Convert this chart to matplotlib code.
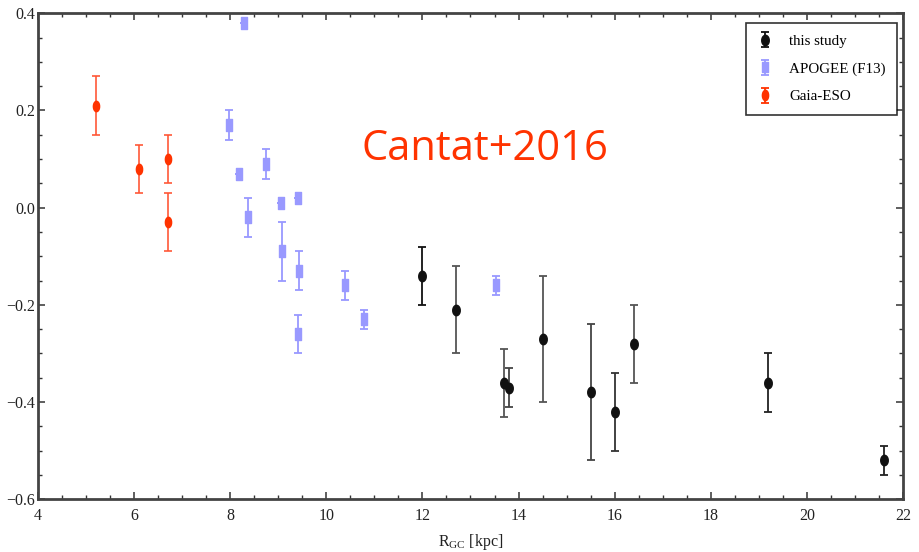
import numpy as np
import matplotlib
matplotlib.use("Agg")
import matplotlib.pyplot as plt
from matplotlib.path import Path
from matplotlib.ticker import MultipleLocator

# --- data: galactocentric radius vs. abundance gradient ---
study_r = [12.0, 12.7, 13.7, 13.8, 14.5, 15.5, 16.0, 16.4, 19.2, 21.6]
study_y = [-0.14, -0.21, -0.36, -0.37, -0.27, -0.38, -0.42, -0.28, -0.36, -0.52]
study_err = [0.06, 0.09, 0.07, 0.04, 0.13, 0.14, 0.08, 0.08, 0.06, 0.03]
study_ecol = ["#111111", "#555555", "#555555", "#444444", "#555555",
              "#444444", "#333333", "#555555", "#222222", "#222222"]

apogee_r = [8.29, 7.97, 8.18, 8.74, 8.36, 9.06, 9.41, 9.07, 9.44, 9.41,
            10.38, 10.78, 13.54]
apogee_y = [0.38, 0.17, 0.07, 0.09, -0.02, 0.01, 0.02, -0.09, -0.13, -0.26,
            -0.16, -0.23, -0.16]
apogee_err = [0.0, 0.03, 0.0, 0.03, 0.04, 0.0, 0.0, 0.06, 0.04, 0.04,
              0.03, 0.02, 0.02]

gaia_r = [5.2, 6.1, 6.7, 6.7]
gaia_y = [0.21, 0.08, 0.10, -0.03]
gaia_err = [0.06, 0.05, 0.05, 0.06]

x_ticks = [4, 6, 8, 10, 12, 14, 16, 18, 20, 22]
y_ticks = [-0.6, -0.4, -0.2, 0.0, 0.2, 0.4]

# tall ellipse / tall rectangle markers
t = np.linspace(0, 2 * np.pi, 60)
ellipse = Path(np.column_stack([0.36 * np.cos(t), 0.5 * np.sin(t)]))
ellipse_n = Path(np.column_stack([0.3 * np.cos(t), 0.5 * np.sin(t)]))
rect = Path([(-0.28, -0.5), (0.28, -0.5), (0.28, 0.5), (-0.28, 0.5), (-0.28, -0.5)],
            [Path.MOVETO, Path.LINETO, Path.LINETO, Path.LINETO, Path.CLOSEPOLY])

plt.rcParams["font.family"] = ["Liberation Serif", "DejaVu Serif"]
plt.rcParams["mathtext.fontset"] = "custom"
plt.rcParams["mathtext.rm"] = "Liberation Serif"

fig = plt.figure(figsize=(9.2, 5.52), dpi=100)
ax = fig.add_axes([0.0413, 0.0955, 0.9402, 0.8804])

black = "#111111"
blue = "#9999ff"
red = "#ff3300"
ekw = dict(fmt="none", elinewidth=1.3, capsize=2.6, capthick=1.3, zorder=2)

# this study: per-point error colour
for r, y, e, c in zip(study_r, study_y, study_err, study_ecol):
    ax.errorbar(r, y, yerr=e, ecolor=c, **ekw)
ax.plot(study_r, study_y, ls="none", marker=ellipse, ms=7.5, mfc=black,
        mec=black, zorder=3)

# APOGEE
ax.errorbar(apogee_r, apogee_y, yerr=apogee_err, ecolor=blue, **ekw)
ax.plot(apogee_r, apogee_y, ls="none", marker=rect, ms=8, mfc=blue, mec=blue,
        zorder=3)

# Gaia-ESO
ax.errorbar(gaia_r, gaia_y, yerr=gaia_err, ecolor="#ff5533", alpha=0.9, **ekw)
ax.plot(gaia_r, gaia_y, ls="none", marker=ellipse_n, ms=7.5, mfc=red, mec=red,
        zorder=3)

# legend handles
handles = []
for col, mk, lab in [(black, ellipse, "this study"), (blue, rect, "APOGEE (F13)"),
                     (red, ellipse_n, "Gaia-ESO")]:
    eb = ax.errorbar([np.nan], [np.nan], yerr=[0.05], marker=mk, ms=7.5,
                     mfc=col, mec=col, ecolor=col, color=col, ls="none",
                     elinewidth=1.3, capsize=2.6, capthick=1.3, label=lab)
    handles.append(eb)
leg = ax.legend(handles=handles, loc="upper right", fontsize=10.8,
                frameon=True, fancybox=False, edgecolor="black",
                borderpad=0.75, labelspacing=0.95, handlelength=1.0,
                handletextpad=1.1, borderaxespad=0,
                bbox_to_anchor=(0.993, 0.980))
leg.get_frame().set_linewidth(1.2)

ax.text(13.3, 0.12, "Cantat+2016", fontsize=30, color=red,
        family=["Open Sans", "DejaVu Sans"], ha="center", va="center")

ax.set_xlim(4, 22)
ax.set_ylim(-0.6, 0.4)
ax.set_xticks(x_ticks)
ax.set_yticks(y_ticks)
ax.set_xticklabels([str(v) for v in x_ticks])
ax.set_yticklabels([f"{v:.1f}".replace("-", "\u2212") for v in y_ticks])
ax.xaxis.set_minor_locator(MultipleLocator(0.5))
ax.yaxis.set_minor_locator(MultipleLocator(0.05))
ax.tick_params(which="both", direction="in", top=True, right=True,
               colors="#333333", labelcolor="#222222", labelsize=11.5)
ax.tick_params(which="major", length=5, width=1.1)
ax.tick_params(which="minor", length=3, width=1.0)
ax.tick_params(axis="x", pad=6)
ax.tick_params(axis="y", pad=2)
for s in ax.spines.values():
    s.set_linewidth(2.0)
    s.set_color("#444444")

ax.set_xlabel(r"R$_{\rm GC}$ [kpc]", fontsize=11.5, color="#222222", labelpad=6)

fig.savefig("out.png", dpi=100)
